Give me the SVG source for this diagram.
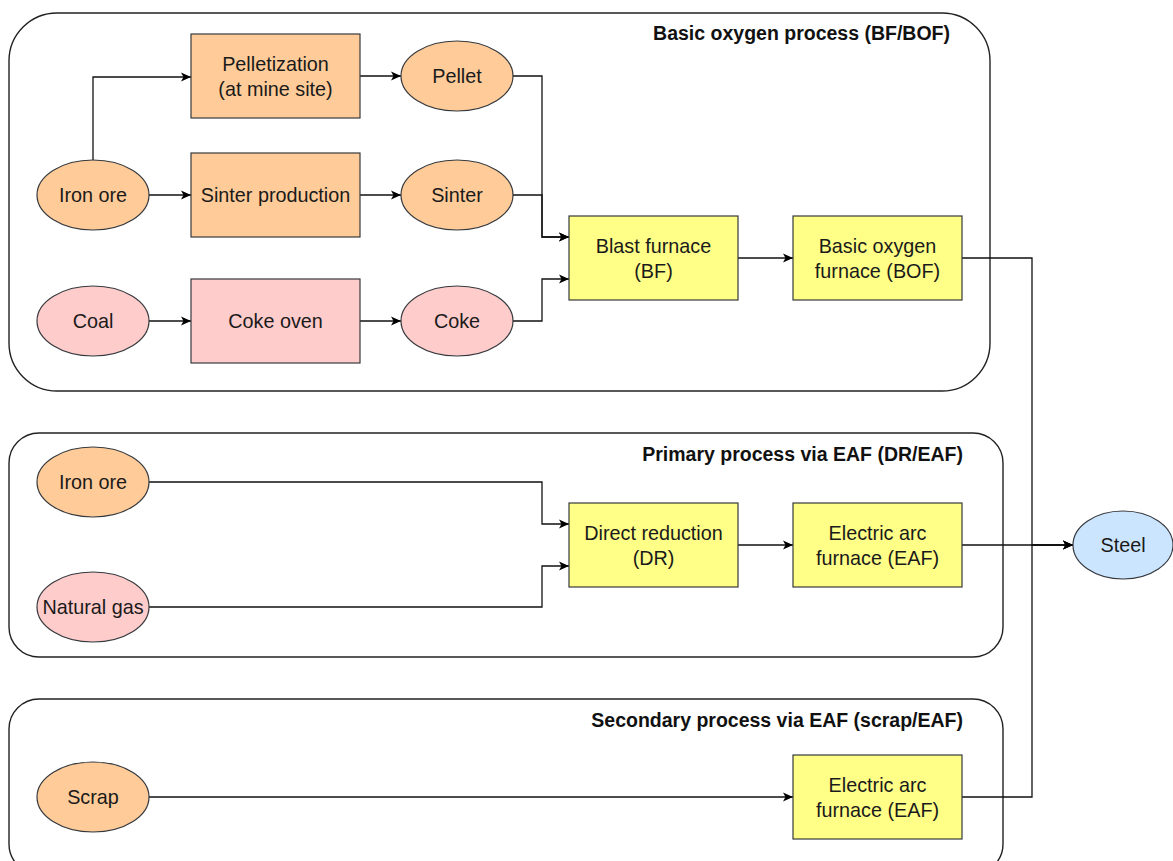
<svg xmlns="http://www.w3.org/2000/svg" width="1173" height="861" viewBox="0 0 1173 861">
<defs>
<marker id="arr" markerWidth="12" markerHeight="12" refX="11" refY="6" orient="auto" markerUnits="userSpaceOnUse">
<path d="M1,1.5 L11,6 L1,10.5 L3.5,6 Z" fill="#000"/>
</marker>
</defs>
<style>
.grp{fill:#fff;stroke:#222;stroke-width:1.4}
.title{font-family:"Liberation Sans",Arial,sans-serif;font-size:19.5px;font-weight:bold;fill:#111;text-anchor:end}
.t{font-family:"Liberation Sans",Arial,sans-serif;font-size:19.8px;fill:#1a1a1a;text-anchor:middle;dominant-baseline:central}
.or{fill:#FFCC99;stroke:#36393d;stroke-width:1.2}
.pk{fill:#FFCCCC;stroke:#36393d;stroke-width:1.2}
.ye{fill:#FFFF88;stroke:#36393d;stroke-width:1.2}
.bl{fill:#CCE5FF;stroke:#36393d;stroke-width:1.2}
.ca{fill:none;stroke:#111;stroke-width:1.3;marker-end:url(#arr)}
</style>
<rect width="1173" height="861" fill="#fff"/>
<g id="group-bof">
<rect class="grp" x="9" y="13" width="981" height="378" rx="48" ry="48"/>
<text class="title" x="950" y="40">Basic oxygen process (BF/BOF)</text>
</g>
<g id="group-dr">
<rect class="grp" x="9" y="433" width="994" height="224" rx="30" ry="30"/>
<text class="title" x="963" y="461">Primary process via EAF (DR/EAF)</text>
</g>
<g id="group-scrap">
<rect class="grp" x="9" y="699" width="994" height="175" rx="30" ry="30"/>
<text class="title" x="963" y="727">Secondary process via EAF (scrap/EAF)</text>
</g>
<g id="connectors">
<path class="ca" d="M93,160 V77 H191"/>
<path class="ca" d="M149,195 H191"/>
<path class="ca" d="M360,76 H401"/>
<path class="ca" d="M360,195 H401"/>
<path class="ca" d="M149,321 H191"/>
<path class="ca" d="M360,321 H401"/>
<path class="ca" d="M513,76 H542 V237 H569"/>
<path class="ca" d="M513,195 H542 V237 H569"/>
<path class="ca" d="M513,321 H542 V279 H569"/>
<path class="ca" d="M738,258 H793"/>
<path class="ca" d="M962,258 H1032 V545 H1073"/>
<path class="ca" d="M149,482 H542 V524 H569"/>
<path class="ca" d="M149,607 H542 V566 H569"/>
<path class="ca" d="M738,545 H793"/>
<path class="ca" d="M962,545 H1073"/>
<path class="ca" d="M149,797 H793"/>
<path class="ca" d="M962,797 H1032 V545 H1073"/>
</g>
<g id="iron-ore-1"><ellipse class="or" cx="93" cy="195" rx="56" ry="35"/><text class="t" x="93" y="195">Iron ore</text></g>
<g id="pelletization"><rect class="or" x="191" y="34" width="169" height="84"/><text class="t" x="275.5" y="64">Pelletization</text><text class="t" x="275.5" y="89">(at mine site)</text></g>
<g id="pellet"><ellipse class="or" cx="457" cy="76" rx="56" ry="35"/><text class="t" x="457" y="76">Pellet</text></g>
<g id="sinter-production"><rect class="or" x="191" y="153" width="169" height="84"/><text class="t" x="275.5" y="195">Sinter production</text></g>
<g id="sinter"><ellipse class="or" cx="457" cy="195" rx="56" ry="35"/><text class="t" x="457" y="195">Sinter</text></g>
<g id="coal"><ellipse class="pk" cx="93" cy="321" rx="56" ry="35"/><text class="t" x="93" y="321">Coal</text></g>
<g id="coke-oven"><rect class="pk" x="191" y="279" width="169" height="84"/><text class="t" x="275.5" y="321">Coke oven</text></g>
<g id="coke"><ellipse class="pk" cx="457" cy="321" rx="56" ry="35"/><text class="t" x="457" y="321">Coke</text></g>
<g id="blast-furnace"><rect class="ye" x="569" y="216" width="169" height="84"/><text class="t" x="653.5" y="246">Blast furnace</text><text class="t" x="653.5" y="271">(BF)</text></g>
<g id="bof"><rect class="ye" x="793" y="216" width="169" height="84"/><text class="t" x="877.5" y="246">Basic oxygen</text><text class="t" x="877.5" y="271">furnace (BOF)</text></g>
<g id="iron-ore-2"><ellipse class="or" cx="93" cy="482" rx="56" ry="35"/><text class="t" x="93" y="482">Iron ore</text></g>
<g id="natural-gas"><ellipse class="pk" cx="93" cy="607" rx="56" ry="35"/><text class="t" x="93" y="607">Natural gas</text></g>
<g id="direct-reduction"><rect class="ye" x="569" y="503" width="169" height="84"/><text class="t" x="653.5" y="533">Direct reduction</text><text class="t" x="653.5" y="558">(DR)</text></g>
<g id="eaf-1"><rect class="ye" x="793" y="503" width="169" height="84"/><text class="t" x="877.5" y="533">Electric arc</text><text class="t" x="877.5" y="558">furnace (EAF)</text></g>
<g id="steel"><ellipse class="bl" cx="1123" cy="545" rx="50" ry="34"/><text class="t" x="1123" y="545">Steel</text></g>
<g id="scrap"><ellipse class="or" cx="93" cy="797" rx="56" ry="35"/><text class="t" x="93" y="797">Scrap</text></g>
<g id="eaf-2"><rect class="ye" x="793" y="755" width="169" height="84"/><text class="t" x="877.5" y="785">Electric arc</text><text class="t" x="877.5" y="810">furnace (EAF)</text></g>
</svg>
